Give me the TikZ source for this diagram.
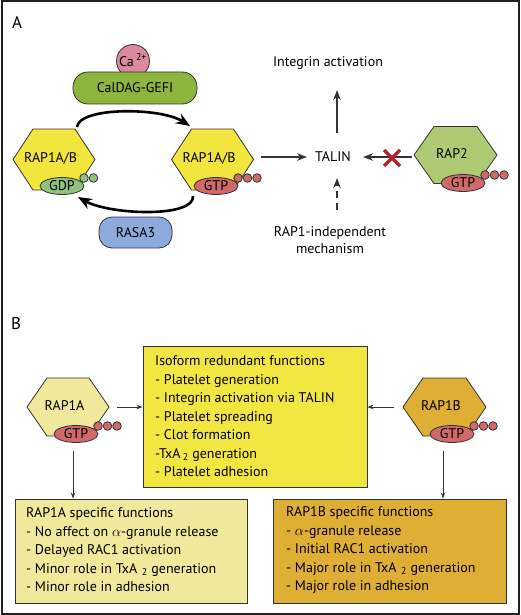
\documentclass[tikz,border=0pt]{standalone}
\usepackage{fontspec}
\setmainfont{PT Sans}
\usetikzlibrary{shapes.geometric,arrows.meta,calc}
\definecolor{framec}{HTML}{231F20}
\definecolor{lineg}{HTML}{333333}
\definecolor{hexY}{HTML}{F2E53E}
\definecolor{gdpG}{HTML}{8FC27A}
\definecolor{gtpR}{HTML}{D06A6A}
\definecolor{calG}{HTML}{8DB43C}
\definecolor{caP}{HTML}{DA8A9C}
\definecolor{rasaB}{HTML}{8EA9DB}
\definecolor{rapTwo}{HTML}{AECB74}
\definecolor{rapA}{HTML}{F0E89A}
\definecolor{rapB}{HTML}{DFAE35}
\definecolor{isoY}{HTML}{F2E640}
\definecolor{xRed}{HTML}{B5232A}
\tikzset{
  hexline/.style={draw=lineg, line width=0.8pt},
  hextext/.style={inner sep=0pt},
  nucl/.style={ellipse, draw=lineg, line width=0.8pt, minimum width=44pt, minimum height=17pt, inner sep=0pt},
  pill/.style={draw=lineg, line width=0.8pt, rounded corners=15pt, inner sep=0pt},
  cyc/.style={line width=2.6pt, -{Stealth[length=14pt,width=11pt]}},
  talarr/.style={line width=1.7pt, draw=lineg, -{Stealth[length=10pt,width=7.5pt]}},
  thinarr/.style={line width=0.9pt, draw=lineg, -{Stealth[length=6pt,width=4.5pt]}},
  fbox/.style={draw=lineg, line width=0.9pt, inner sep=0pt},
  ftext/.style={align=left, inner sep=0pt, anchor=west, font=\fontsize{14}{18.5}\selectfont},
  lbl/.style={font=\fontsize{17}{19}\selectfont, inner sep=0pt}
}
\newcommand\hexa[7]{%
  \filldraw[hexline, fill=#6] ({#2-#4},#3) -- ({#2-#4+20},{#3-#5}) -- ({#2+#4-20},{#3-#5})
    -- ({#2+#4},#3) -- ({#2+#4-20},{#3+#5}) -- ({#2-#4+20},{#3+#5}) -- cycle;
  \node[hextext] (#1) at ({#2-3.5},{#3-1.5}) {#7};
}
\newcommand\nucl[6]{%
  \node[nucl, fill=#4] (#1) at (#2,#3) {#5};
  \foreach \k in {1,...,#6} \filldraw[hexline, fill=#4] ({#2+12.5+9.5*\k},{#3-8}) circle (4.3pt);
}
\begin{document}
\begin{tikzpicture}[x=1pt,y=-1pt, font=\fontsize{14}{16}\selectfont]
\useasboundingbox (0,0) rectangle (520,615);
\draw[line width=2pt, draw=framec] (1.5,1.5) rectangle (518.5,613.5);

% ---------- panel A ----------
\node[lbl] (labA) at (17,22) {A};
\node[circle, draw=lineg, line width=0.8pt, fill=caP, minimum size=33pt, inner sep=0pt] (ca) at (133,61) {};
\node[inner sep=0pt] (catext) at (133,60) {Ca\,\textsuperscript{2+}};
\node[pill, fill=calG, minimum width=124pt, minimum height=32pt] (cal) at (135,88) {CalDAG-GEFI};
\node[pill, fill=rasaB, minimum width=73pt, minimum height=31pt, rounded corners=13pt] (rasa) at (135.5,232.5) {RASA3};

\hexa{hexL}{54}{159.5}{41}{30.5}{hexY}{RAP1A/B}
\nucl{gdp}{62}{186}{gdpG}{GDP}{2}
\hexa{hexR}{212.5}{159.5}{41}{30.5}{hexY}{RAP1A/B}
\nucl{gtpR}{216}{186}{gtpR}{GTP}{3}
\hexa{rap2}{455.5}{155}{41.5}{28.5}{rapTwo}{RAP2}
\nucl{gtp2}{463}{183}{gtpR}{GTP}{3}

\coordinate (a1) at (77,127);
\coordinate (a2) at (190,126);
\coordinate (b1) at (193,196);
\coordinate (b2) at (78,197);
\draw[cyc] (a1) .. controls (79,107) and (160,107) .. (a2);
\draw[cyc] (b1) .. controls (195,218) and (110,215) .. (b2);

\node[inner sep=0pt] (talin) at (333,157) {TALIN};
\node[inner sep=0pt] (integ) at (328,63) {Integrin activation};
\node[inner sep=0pt, align=center, font=\fontsize{14}{17}\selectfont] (indep) at (330,240) {RAP1-independent\\mechanism};
\coordinate (r1) at (261,157);
\coordinate (r2) at (307,157);
\coordinate (s1) at (412,157);
\coordinate (s2) at (363,157);
\coordinate (u1) at (337,133);
\coordinate (u2) at (337,90);
\coordinate (d1) at (337,210);
\coordinate (d2) at (337,178);
\draw[talarr] (r1) -- (r2);
\draw[talarr] (s1) -- (s2);
\draw[talarr] (u1) -- (u2);
\draw[talarr, dash pattern=on 7pt off 5pt] (d1) -- (d2);
\coordinate (xc) at (392,158);
\draw[xRed, line width=3.4pt] ($(xc)+(-8,-8)$) -- ($(xc)+(8,8)$) ($(xc)+(-8,8)$) -- ($(xc)+(8,-8)$);

% ---------- panel B ----------
\node[lbl] (labB) at (16,324) {B};
\hexa{hexA}{68}{407}{41}{29}{rapA}{RAP1A}
\nucl{gtpA}{76}{434}{gtpR}{GTP}{3}
\hexa{hexB}{444.5}{407}{41.5}{29}{rapB}{RAP1B}
\nucl{gtpB}{452}{434}{gtpR}{GTP}{3}

\node[fbox, fill=isoY, minimum width=224pt, minimum height=141pt] (iso) at (255,416.5) {};
\node[ftext] (isot) at (155,416.5)
  {Isoform redundant functions\\- Platelet generation\\- Integrin activation via TALIN\\- Platelet spreading\\- Clot formation\\-TxA\,\textsubscript{2} generation\\- Platelet adhesion};
\node[fbox, fill=rapA, minimum width=232pt, minimum height=104pt] (specA) at (131,551) {};
\node[ftext] (specAt) at (26,550)
  {RAP1A specific functions\\- No affect on $\alpha$-granule release\\- Delayed RAC1 activation\\- Minor role in TxA\,\,\textsubscript{2} generation\\- Minor role in adhesion};
\node[fbox, fill=rapB, minimum width=233pt, minimum height=104pt] (specB) at (389.5,551) {};
\node[ftext] (specBt) at (286,550)
  {RAP1B specific functions\\- $\alpha$-granule release\\- Initial RAC1 activation\\- Major role in TxA\,\,\textsubscript{2} generation\\- Major role in adhesion};

\coordinate (p1) at (117,407);
\coordinate (p2) at (394,407);
\coordinate (q1) at (73,451);
\coordinate (q2) at (443,451);
\draw[thinarr] (p1) -- (iso.west |- p1);
\draw[thinarr] (p2) -- (iso.east |- p2);
\draw[thinarr] (q1) -- (specA.north -| q1);
\draw[thinarr] (q2) -- (specB.north -| q2);
\end{tikzpicture}
\end{document}
